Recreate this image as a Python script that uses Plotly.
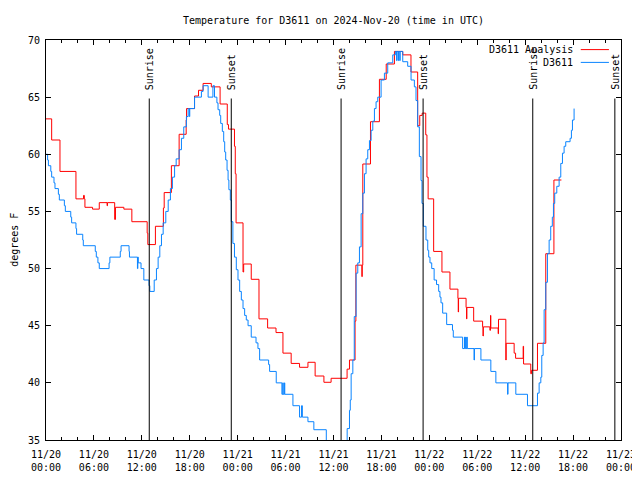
import plotly.graph_objects as go
import pandas as pd

# ---- data (hours since 2024-11-20 00:00 UTC, degrees F) ----
red_hours = [0.0, 0.71, 1.75, 3.75, 4.7, 4.8, 4.875, 5.83, 6.67, 7.65, 7.7, 8.6, 8.7, 9.75,
             10.75, 12.67, 12.75, 13.7, 14.7, 14.8, 15.7, 16.67, 17.55, 17.6, 18.6, 19.1,
             19.67, 20.7, 21.8, 22.7, 22.85, 23.6, 23.7, 23.8, 24.67, 24.75, 25.7, 26.67,
             27.75, 28.8, 29.67, 30.7, 31.75, 32.8, 33.7, 34.8, 35.7, 37.7, 38.0, 38.7,
             38.8, 39.55, 39.6, 39.67, 40.63, 41.75, 42.6, 43.63, 44.67, 45.7, 46.54, 46.8,
             47.1, 47.55, 47.7, 47.85, 48.54, 49.58, 50.58, 51.58, 51.62, 51.66, 52.6,
             52.66, 52.7, 53.55, 54.67, 54.72, 54.76, 55.58, 55.66, 55.7, 56.62, 56.66,
             57.58, 57.62, 58.62, 58.8, 59.75, 59.8, 60.7, 60.8, 61.54, 62.58, 63.6, 64.54]
red_temps = [63.1, 61.25, 58.5, 56.1, 56.4, 56.1, 55.36, 55.2, 55.77, 55.5, 55.77, 54.3, 55.36, 55.2,
             54.1, 53.1, 52.1, 53.7, 55.3, 56.65, 59.0, 61.75, 63.0, 64.0, 65.1, 65.6,
             66.2, 65.9, 64.4, 62.6, 62.2, 60.7, 58.3, 54.0, 49.7, 50.4, 49.06, 45.6,
             44.8, 44.4, 42.6, 41.7, 41.36, 41.8, 40.6, 40.05, 40.4, 41.2, 42.0, 45.4,
             50.3, 49.3, 50.3, 59.15, 62.85, 66.56, 67.9, 69.0, 68.7, 67.2, 62.5, 63.4,
             63.6, 61.7, 58.0, 56.1, 51.5, 49.7, 48.2, 47.4, 46.2, 47.4, 46.6,
             45.6, 46.6, 45.4, 44.9, 44.1, 44.9, 44.6, 45.9, 44.8, 44.3, 45.56,
             42.0, 43.46, 42.6, 42.15, 43.2, 41.65, 40.8, 41.1, 43.46, 51.3, 57.75, 57.75]

blue_hours = [0.0, 0.2, 0.3, 0.6, 0.71, 1.0, 1.125, 1.55, 1.67, 2.3, 2.42, 3.1, 3.21, 3.75, 3.83,
              4.6, 4.67, 6.17, 6.3, 6.5, 6.67, 7.9, 8.0, 9.3, 9.4, 10.4, 10.45, 11.45, 11.5,
              11.55, 11.9, 12.25, 12.9, 13.0, 13.55, 13.83, 14.04, 14.25, 14.46, 14.67, 15.0,
              15.3, 15.58, 15.83, 16.1, 16.3, 16.67, 16.96, 17.25, 17.58, 17.8, 17.95, 18.0,
              18.6, 19.46, 19.67, 20.3, 20.9, 21.1, 21.4, 21.54, 21.75, 21.875, 22.08, 22.25,
              22.375, 22.5, 22.67, 22.8, 22.9, 23.08, 23.2, 23.4, 23.6, 23.83, 24.04, 24.25,
              24.46, 24.67, 24.875, 25.08, 25.3, 25.7, 26.3, 26.54, 26.75, 27.875, 28.0,
              28.83, 29.54, 29.65, 29.7, 29.85, 29.9, 30.92, 31.75, 32.0, 32.1, 32.8, 33.54,
              35.1, 37.71, 38.0, 38.1, 38.21, 38.42, 38.6, 38.83, 39.04, 39.25, 39.46,
              39.67, 39.875, 40.08, 40.29, 40.5, 40.71, 40.92, 41.125, 41.33, 41.54, 41.96,
              42.375, 42.79, 43.42, 43.75, 43.9, 43.95, 44.1, 44.15, 44.3, 44.35, 44.67,
              45.29, 45.71, 46.125, 46.33, 46.54, 46.75, 46.96, 47.08, 47.25, 47.58, 47.8,
              47.92, 48.08, 48.3, 48.6, 48.9, 49.17, 49.33, 49.46, 49.67, 50.17, 50.9, 51.0,
              52.17, 52.4, 52.45, 52.55, 52.6, 52.7, 52.75, 53.6, 53.65, 54.46, 55.7, 56.33,
              57.8, 57.85, 58.83, 60.29, 61.54, 61.75, 61.96, 62.08, 62.25, 62.375, 62.58,
              62.79, 63.0, 63.2, 63.4, 63.54, 63.7, 63.96, 64.25, 64.46, 64.67, 64.875,
              65.08, 65.625, 65.79, 65.92, 66.125]
blue_temps = [60, 59.5, 59, 58.5, 58, 57.5, 57, 56.5, 56, 55.5, 55, 54.5, 54, 53.5, 53,
              52.5, 52, 51.5, 51, 50.5, 50, 50.5, 51, 51.5, 52, 51.5, 51, 50, 51,
              50.5, 50, 49, 48.5, 48, 49, 50, 51, 52, 53, 54, 55,
              56, 57, 58, 59, 59.6, 60.4, 61.4, 62.4, 63.3, 64.0, 63.3, 64.0,
              65.0, 65.5, 66.0, 65.0, 66.0, 65.0, 64.5, 63.9, 63.4, 62.7, 62.0, 61.1,
              60.2, 59.5, 58.6, 57.75, 56.9, 56.0, 54.1, 52.2, 51.0, 49.9, 49.0, 48.0,
              47.25, 46.5, 45.9, 45.5, 45.0, 44.0, 43.5, 43.0, 42.0, 41.6, 41.0,
              40.0, 39.0, 40.0, 39.0, 40.0, 39.0, 38.0, 37.0, 38.0, 37.0, 36.6, 35.9,
              34.5, 36.0, 37.6, 38.5, 40.8, 42.0, 45.8, 49.6, 50.5, 51.9, 54.8,
              56.6, 58.3, 59.6, 60.4, 61.2, 62.1, 62.9, 64.0, 64.6, 65.0, 66.5,
              67.1, 68.0, 68.7, 69.0, 68.2, 69.0, 68.2, 69.0, 68.2, 69.0, 68.1,
              67.7, 66.5, 65.9, 64.7, 62.4, 59.8, 57.7, 55.7, 53.7, 52.5, 51.6,
              51.0, 50.5, 50.0, 49.0, 48.6, 48.0, 47.5, 47.0, 46.1, 45.1, 44.6, 44.0,
              43.0, 44.0, 43.0, 44.0, 43.0, 44.0, 43.0, 42.0, 43.0, 42.0, 41.0, 40.0,
              39.0, 40.0, 39.0, 38.0, 39.1, 40.0, 40.5, 42.4, 43.5, 46.4, 48.8,
              51.3, 52.5, 53.7, 54.5, 55.7, 56.6, 57.2, 58.0, 59.2, 60.1, 60.7,
              61.1, 61.4, 62.1, 63.0, 64.0]

sunrise_hours = [12.93, 36.95, 60.95]
sunset_hours = [23.2, 47.22, 71.23]

series_names = ["D3611 Analysis", "D3611"]
series_colors = ["#ff0000", "#0a84ff"]

base = pd.Timestamp("2024-11-20 00:00")


def to_time(hours):
    return [base + pd.Timedelta(hours=h) for h in hours]


FONT = "DejaVu Sans Mono"

fig = go.Figure()
fig.add_trace(go.Scatter(x=to_time(red_hours), y=red_temps, mode="lines",
                         line=dict(color=series_colors[0], width=1, shape="hv"),
                         name=series_names[0]))
fig.add_trace(go.Scatter(x=to_time(blue_hours), y=blue_temps, mode="lines",
                         line=dict(color=series_colors[1], width=1, shape="hv"),
                         name=series_names[1]))

shapes = []
annotations = []
line_top = 64.88
label_y = 65.45
for label, hrs in (("Sunrise", sunrise_hours), ("Sunset", sunset_hours)):
    for t in to_time(hrs):
        shapes.append(dict(type="line", xref="x", yref="y", x0=t, x1=t, y0=35, y1=line_top,
                           line=dict(color="black", width=1)))
        annotations.append(dict(text=label, x=t, y=label_y, xref="x", yref="y",
                                textangle=-90, xanchor="center", yanchor="bottom",
                                showarrow=False, font=dict(family=FONT, size=10, color="black")))

# gnuplot-style legend (text right-aligned, sample line to the right)
legend_rows_y = [0.976, 0.944]
for name, color, ly in zip(series_names, series_colors, legend_rows_y):
    annotations.append(dict(text=name, x=0.920, y=ly, xref="paper", yref="paper",
                            xanchor="right", yanchor="middle", showarrow=False,
                            font=dict(family=FONT, size=10, color="black")))
    shapes.append(dict(type="line", xref="paper", yref="paper", x0=0.930, x1=0.979,
                       y0=ly, y1=ly, line=dict(color=color, width=1)))

# y-axis title
annotations.append(dict(text="degrees F", x=-0.056, y=0.5, xref="paper", yref="paper",
                        textangle=-90, xanchor="center", yanchor="middle", showarrow=False,
                        borderpad=0,
                        font=dict(family=FONT, size=10, color="black")))

# the page body adds an 8px offset, so the margins are shifted to compensate
fig.update_layout(
    width=640, height=480,
    margin=dict(l=38, r=27, t=32, b=48),
    plot_bgcolor="white", paper_bgcolor="white",
    font=dict(family=FONT, size=10, color="black"),
    showlegend=False,
    title=dict(text="Temperature for D3611 on 2024-Nov-20 (time in UTC)",
               x=0.5, xref="paper", xanchor="center",
               y=1 - 12 / 480, yref="container", yanchor="middle",
               font=dict(family=FONT, size=10, color="black")),
    shapes=shapes,
    annotations=annotations,
)

fig.update_xaxes(
    type="date",
    range=[base, base + pd.Timedelta(hours=72)],
    tick0=base, dtick=6 * 3600 * 1000,
    tickformat="%m/%d<br>%H:%M",
    ticks="inside", ticklen=5, tickwidth=1, tickcolor="black",
    ticklabelstandoff=5,
    showline=True, linecolor="black", linewidth=1, mirror="ticks",
    showgrid=False, zeroline=False,
    minor=dict(dtick=2 * 3600 * 1000, ticks="inside", ticklen=3, tickcolor="black",
               showgrid=False),
    tickfont=dict(family=FONT, size=10, color="black"),
)
fig.update_yaxes(
    range=[35, 70], dtick=5, tick0=35,
    ticks="inside", ticklen=5, tickwidth=1, tickcolor="black",
    ticklabelstandoff=3,
    showline=True, linecolor="black", linewidth=1, mirror="ticks",
    showgrid=False, zeroline=False,
    tickfont=dict(family=FONT, size=10, color="black"),
)

fig.write_html("out.html", config={"displayModeBar": False})
